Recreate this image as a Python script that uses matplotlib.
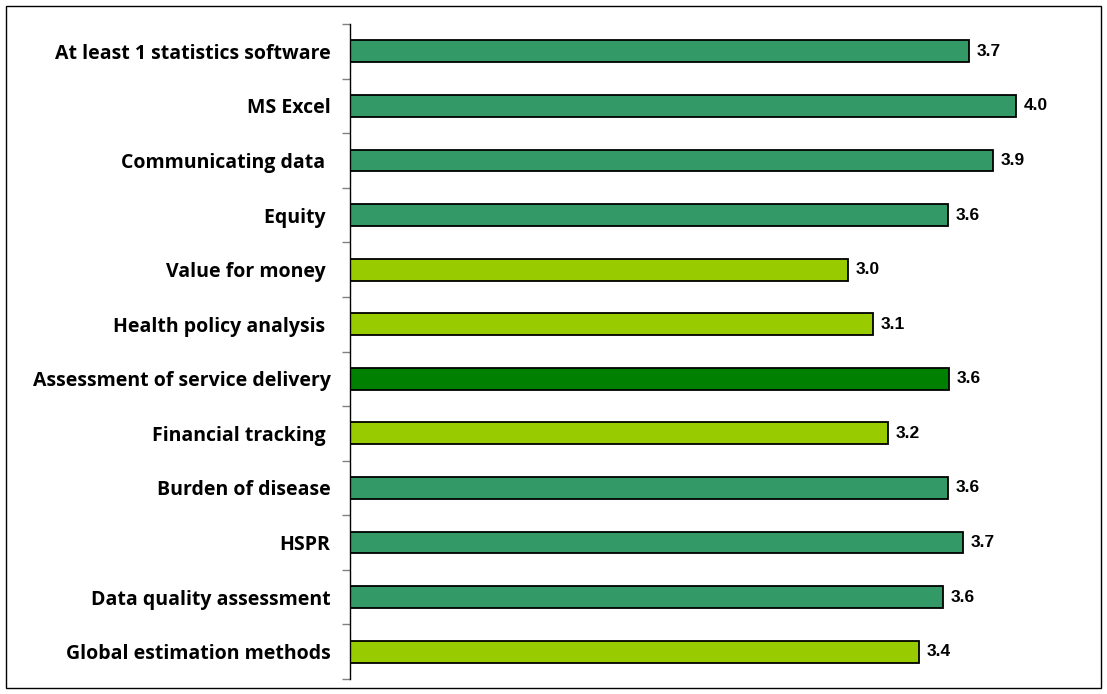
import matplotlib
matplotlib.use("Agg")
import matplotlib.pyplot as plt
from matplotlib.patches import Rectangle
from matplotlib.ticker import FixedLocator, NullLocator

categories = ["At least 1 statistics software", "MS Excel", "Communicating data ",
              "Equity ", "Value for money ", "Health policy analysis ",
              "Assessment of service delivery", "Financial tracking ",
              "Burden of disease", "HSPR", "Data quality assessment",
              "Global estimation methods"]
scores = [3.72, 4.0, 3.86, 3.59, 2.99, 3.14, 3.60, 3.23, 3.59, 3.68, 3.56, 3.42]
groups = ["mid", "mid", "mid", "mid", "lime", "lime", "dark", "lime",
          "mid", "mid", "mid", "lime"]

colours = {"mid": "#339966", "lime": "#99CC00", "dark": "#008000"}

fig = plt.figure(figsize=(11.07, 6.94), dpi=100)
ax = fig.add_axes([350 / 1107, 15 / 694, 740 / 1107, 655 / 694])

n = len(categories)
ypos = list(range(n))[::-1]  # first category at top
ax.barh(ypos, scores, height=0.4, color=[colours[g] for g in groups],
        edgecolor="black", linewidth=1.3)

for y, v in zip(ypos, scores):
    ax.text(v + 0.045, y, "%.1f" % v, va="center", ha="left",
            fontsize=12.5, fontweight="bold", family="Liberation Sans")

ax.set_xlim(0, 740 / 166.5)
ax.set_ylim(-0.5, n - 0.5)
ax.set_yticks(ypos)
ax.set_yticklabels(categories, fontsize=14, fontweight="bold", family="Open Sans")
ax.tick_params(axis="y", which="major", length=0, pad=14)
ax.yaxis.set_minor_locator(FixedLocator([i - 0.5 for i in range(n + 1)]))
ax.tick_params(axis="y", which="minor", length=6, width=1, color="#808080")
ax.xaxis.set_major_locator(NullLocator())

for s in ["top", "right", "bottom"]:
    ax.spines[s].set_visible(False)
ax.spines["left"].set_linewidth(1)

# outer chart frame
fig.patches.append(Rectangle((6 / 1107, 6 / 694), 1 - 12 / 1107, 1 - 12 / 694,
                             transform=fig.transFigure, fill=False,
                             edgecolor="black", linewidth=1))

fig.savefig("out.png", dpi=100)
